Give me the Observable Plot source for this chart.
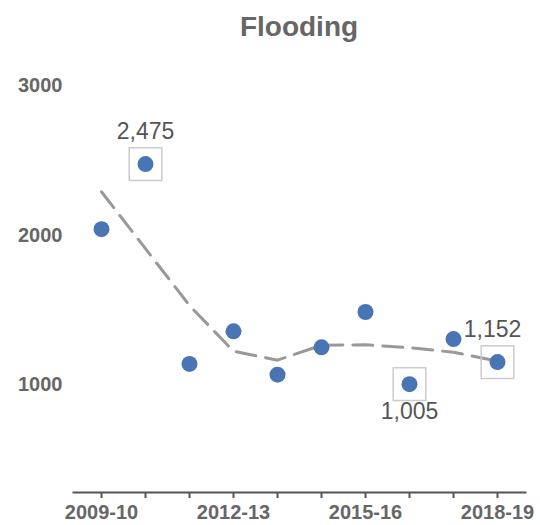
<!DOCTYPE html>
<html>
<head>
<meta charset="utf-8">
<script src="https://cdn.jsdelivr.net/npm/d3@7"></script>
<script src="https://cdn.jsdelivr.net/npm/@observablehq/plot@0.6"></script>
<style>
  body { margin: 0; background: #fff; font-family: "Liberation Sans", Arial, sans-serif; }
  #title { width: 482px; margin: 0 0 0 58px; height: 48px; line-height: 48px; padding-top: 3px; text-align: center; font-size: 28px; font-weight: bold; color: #666; }
</style>
</head>
<body>
<div id="title">Flooding</div>
<div id="chart"></div>
<script>
const years = ["2009-10","2010-11","2011-12","2012-13","2013-14","2014-15","2015-16","2016-17","2017-18","2018-19"];
const values = [2040, 2475, 1140, 1358, 1068, 1251, 1487, 1005, 1306, 1152];
const trend = [2290, 1910, 1530, 1225, 1165, 1265, 1268, 1248, 1218, 1158];
const labelYears = ["2009-10","2012-13","2015-16","2018-19"];
const yTicks = [1000, 2000, 3000];
const highlightAbove = ["2010-11"];
const highlightAboveRight = ["2018-19"];
const highlightBelow = ["2016-17"];

const data = years.map((y, i) => ({year: y, value: values[i], trend: trend[i]}));
const above = data.filter(d => highlightAbove.includes(d.year));
const aboveRight = data.filter(d => highlightAboveRight.includes(d.year));
const below = data.filter(d => highlightBelow.includes(d.year));
const boxed = data.filter(d => highlightAbove.includes(d.year) || highlightAboveRight.includes(d.year) || highlightBelow.includes(d.year));

const fmt = d3.format(",");

const chart = Plot.plot({
  width: 540,
  height: 474,
  marginLeft: 73,
  marginRight: 15,
  marginTop: 34,
  marginBottom: 33,
  style: {fontFamily: "Liberation Sans, Arial, sans-serif", color: "#666", background: "#fff"},
  x: {type: "point", domain: years, padding: 0.6},
  y: {domain: [281, 3000]},
  marks: [
    Plot.frame({anchor: "bottom", stroke: "#555", strokeWidth: 2}),
    Plot.axisX({tickSize: 6, stroke: "#555", strokeWidth: 2, text: null, label: null}),
    Plot.axisX(labelYears, {tickSize: 0, tickPadding: 12, fontSize: 20, fontWeight: "bold", fill: "#666", label: null}),
    Plot.axisY(yTicks, {tickSize: 0, tickPadding: 11, fontSize: 20, fontWeight: "bold", fill: "#666", tickFormat: d => String(d), label: null}),
    Plot.line(data, {x: "year", y: "trend", stroke: "#999", strokeWidth: 3, strokeDasharray: "20,10", curve: "linear"}),
    Plot.dot(data, {x: "year", y: "value", r: 8, fill: "#4a75b5", stroke: "none"}),
    Plot.dot(boxed, {x: "year", y: "value", symbol: "square", r: 18.4, fill: "none", stroke: "#ccc", strokeWidth: 1.5}),
    Plot.text(above, {x: "year", y: "value", text: d => fmt(d.value), lineAnchor: "middle", dy: -32, fontSize: 23, fill: "#555"}),
    Plot.text(aboveRight, {x: "year", y: "value", text: d => fmt(d.value), lineAnchor: "middle", dy: -32, dx: -5, fontSize: 23, fill: "#555"}),
    Plot.text(below, {x: "year", y: "value", text: d => fmt(d.value), lineAnchor: "middle", dy: 27, fontSize: 23, fill: "#555"})
  ]
});
document.getElementById("chart").appendChild(chart);
</script>
</body>
</html>
